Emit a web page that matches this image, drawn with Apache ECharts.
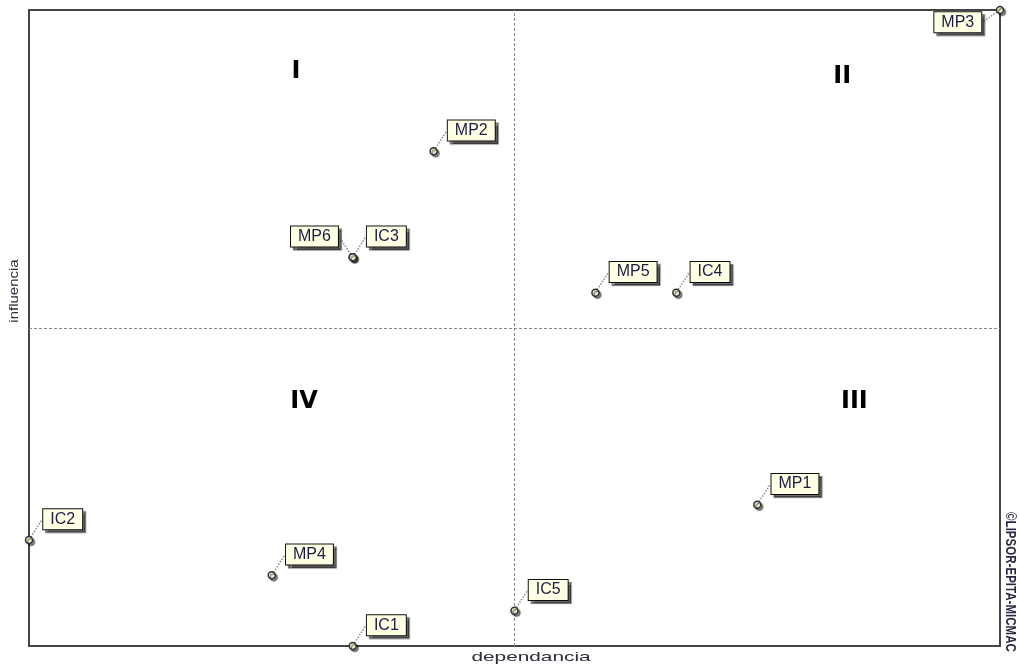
<!DOCTYPE html>
<html>
<head>
<meta charset="utf-8">
<script src="https://cdn.jsdelivr.net/npm/echarts@6/dist/echarts.min.js"></script>
<style>
html,body{margin:0;padding:0;background:#fff;}
#chart{width:1020px;height:666px;}
</style>
</head>
<body>
<div id="chart"></div>
<script>
// Variables (MICMAC map)
const categories = ['MP1','MP2','MP3','MP4','MP5','MP6','IC1','IC2','IC3','IC4','IC5'];
const dependance = [9, 5, 12, 3, 7, 4, 4, 0, 4, 8, 6];
const influence  = [4, 14, 18, 2, 10, 11, 0, 3, 11, 10, 1];
// Quadrant names and their anchor (in dependance / influence units)
const quadrantNames = ['I', 'II', 'III', 'IV'];
const quadrantDep = [3.3, 10.05, 10.2, 3.4];
const quadrantInf = [16.25, 16.1, 6.9, 6.9];
const xName = 'dependancia';
const yName = 'influencia';
const credit = '©LIPSOR-EPITA-MICMAC';

const depMax = 12, infMax = 18;
const labelSide = { MP3: 'bl', MP6: 'tl' };
const SYM = 7;
const sidePos = {
  tr: { position: [SYM / 2 + 15, SYM / 2 - 10], align: 'left', verticalAlign: 'bottom' },
  tl: { position: [SYM / 2 - 14, SYM / 2 - 10], align: 'right', verticalAlign: 'bottom' },
  bl: { position: [SYM / 2 - 18, SYM / 2 + 3], align: 'right', verticalAlign: 'top' }
};

const chart = echarts.init(document.getElementById('chart'), null, { renderer: 'canvas' });

const points = categories.map((c, i) => ({
  name: c,
  value: [dependance[i], influence[i]],
  label: sidePos[labelSide[c] || 'tr']
}));
const quadrants = quadrantNames.map((q, i) => ({ name: q, value: [quadrantDep[i], quadrantInf[i]] }));

chart.setOption({
  animation: false,
  backgroundColor: '#ffffff',
  grid: { left: 29, top: 10, right: 20, bottom: 20, show: true, borderColor: '#444', borderWidth: 2, backgroundColor: '#fff' },
  xAxis: { type: 'value', min: 0, max: depMax, show: false },
  yAxis: { type: 'value', min: 0, max: infMax, show: false },
  series: [{
    type: 'scatter',
    data: quadrants,
    symbolSize: 0,
    silent: true,
    itemStyle: { color: '#000', opacity: 1 },
    label: {
      show: true, position: 'inside', formatter: '{b}',
      fontFamily: '"DejaVu Sans", sans-serif', fontWeight: 'bold', fontSize: 24,
      color: '#000', textBorderWidth: 0
    },
    z: 3
  }, {
    type: 'scatter',
    data: points,
    clip: false,
    symbol: 'circle',
    symbolSize: SYM,
    itemStyle: { color: '#eeeecc', opacity: 1, borderColor: '#333', borderWidth: 1.5, shadowColor: 'rgba(0,0,0,0.45)', shadowOffsetX: 2, shadowOffsetY: 2, shadowBlur: 1 },
    label: {
      show: true,
      formatter: '{b}',
      fontFamily: '"Liberation Sans", Arial, sans-serif',
      fontSize: 16,
      color: '#1c1b45',
      backgroundColor: '#ffffe4',
      borderColor: '#111',
      borderWidth: 1,
      padding: [1, 7, 1, 7],
      lineHeight: 18,
      shadowColor: 'rgba(0,0,0,0.55)',
      shadowOffsetX: 3,
      shadowOffsetY: 3,
      shadowBlur: 1
    },
    labelLine: { show: true, lineStyle: { color: '#8a8a8a', width: 1.5, type: 'dotted' } },
    markLine: {
      silent: true,
      symbol: 'none',
      label: { show: false },
      lineStyle: { color: '#888', width: 1, type: [3, 2] },
      data: [{ xAxis: depMax / 2 }, { yAxis: infMax / 2 }]
    },
    z: 5
  }]
});

const FONT = '"Liberation Sans", Arial, sans-serif';
chart.setOption({ graphic: [
  {
    type: 'text', x: 531, y: 657, scaleX: 1.6,
    style: { text: xName, font: '13px ' + FONT, fill: '#2c2c3c', align: 'center', verticalAlign: 'middle' }
  },
  {
    type: 'text', x: 14, y: 291, rotation: Math.PI / 2, scaleX: 1.25, scaleY: 1.1,
    style: { text: yName, font: '12px ' + FONT, fill: '#2c2c3c', align: 'center', verticalAlign: 'middle' }
  },
  {
    type: 'text', x: 1010, y: 582, rotation: -Math.PI / 2, scaleX: 1.05, scaleY: 1.4,
    style: { text: credit, font: 'bold 11px ' + FONT, fill: '#2a2a48', align: 'center', verticalAlign: 'middle' }
  }
] });
</script>
</body>
</html>
